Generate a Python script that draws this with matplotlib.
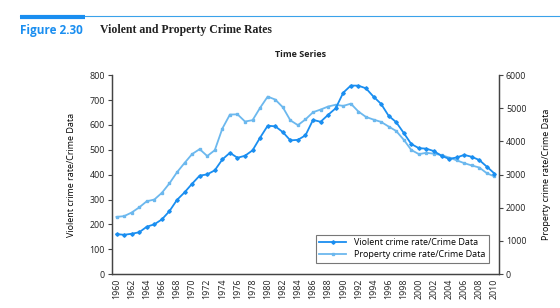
import matplotlib.pyplot as plt
from matplotlib.lines import Line2D

years = list(range(1960, 2011))
violent = [160.9, 158.1, 162.3, 168.2, 190.6, 200.2, 220.0, 253.2, 298.4, 328.7,
           363.5, 396.0, 401.0, 417.4, 461.1, 487.8, 467.8, 475.9, 497.8, 548.9,
           596.6, 594.3, 571.1, 537.7, 539.9, 558.1, 620.1, 612.5, 640.6, 666.9,
           729.6, 758.2, 757.7, 747.1, 713.6, 684.5, 636.6, 611.0, 567.6, 523.0,
           506.5, 504.5, 494.4, 475.8, 463.2, 469.0, 479.3, 471.8, 458.6, 431.9,
           404.5]
property_ = [1726.3, 1747.9, 1857.5, 2012.1, 2197.5, 2248.8, 2450.9, 2736.5, 3071.8, 3351.3,
             3621.0, 3768.8, 3560.4, 3737.0, 4389.3, 4810.7, 4819.5, 4601.7, 4642.5, 5016.6,
             5353.3, 5263.9, 5032.5, 4637.4, 4492.1, 4666.4, 4881.8, 4963.0, 5054.0, 5107.1,
             5073.1, 5140.2, 4903.7, 4740.0, 4660.2, 4590.5, 4451.0, 4316.3, 4052.5, 3743.6,
             3618.3, 3658.1, 3630.6, 3591.2, 3514.1, 3431.5, 3346.6, 3276.4, 3214.6, 3041.3,
             2945.9]
labels = ['Violent crime rate/Crime Data', 'Property crime rate/Crime Data']

c_violent = '#1a8ef0'
c_property = '#6cb8ee'
axis_col = '#444444'

fig = plt.figure(figsize=(5.6, 3.08), dpi=100)

# header band
fig.add_artist(Line2D([0.035, 1.0], [0.947, 0.947], color='#3aa2ea', lw=0.8))
fig.add_artist(Line2D([0.035, 0.152], [0.944, 0.944], color='#1a8ef0', lw=3.0,
                      solid_capstyle='butt'))
fig.text(0.035, 0.902, 'Figure 2.30', color='#1a8ef0', fontsize=8.5,
         fontweight='bold', family='Open Sans', va='center')
fig.text(0.178, 0.902, 'Violent and Property Crime Rates', color='#222222',
         fontsize=8.5, fontweight='bold', family='Liberation Serif', va='center')
fig.text(0.536, 0.822, 'Time Series', fontsize=6.5, fontweight='bold',
         family='Open Sans', ha='center', va='center', color='#222222')

ax = fig.add_axes([0.2, 0.11, 0.691, 0.646])
ax2 = ax.twinx()

l1, = ax.plot(years, violent, color=c_violent, lw=1.3, marker='D', ms=1.8,
              label=labels[0])
l2, = ax2.plot(years, property_, color=c_property, lw=1.3, marker='s', ms=2.0,
               label=labels[1])
ax.set_zorder(ax2.get_zorder() + 1)
ax.patch.set_visible(False)

ax.set_xlim(1959.4, 2010.6)
ax.set_ylim(0, 800)
ax2.set_ylim(0, 6000)
ax.set_yticks(range(0, 801, 100))
ax2.set_yticks(range(0, 6001, 1000))
ax.set_xticks(years[::2])
ax.set_xticklabels([str(y) for y in years[::2]], rotation=90)

for a in (ax, ax2):
    a.spines['top'].set_visible(False)
    for s in a.spines.values():
        s.set_color(axis_col)
        s.set_linewidth(0.9)
    a.tick_params(labelsize=6.4, colors='#222222', length=3, width=0.8,
                  color=axis_col, pad=2)
ax.tick_params(axis='x', length=0, pad=3)
for t in ax.get_xticklabels() + ax.get_yticklabels() + ax2.get_yticklabels():
    t.set_family('Open Sans')

ax.set_ylabel(labels[0], fontsize=6.5, family='Open Sans', labelpad=10)
ax2.set_ylabel(labels[1], fontsize=6.5, family='Open Sans', labelpad=11)

leg = ax.legend(handles=[l1, l2], loc='lower right', bbox_to_anchor=(0.985, 0.035),
                frameon=True, fancybox=False, handlelength=3,
                borderpad=0.4, labelspacing=0.3, prop={'family': 'Open Sans', 'size': 6.5})
leg.get_frame().set_edgecolor('#555555')
leg.get_frame().set_linewidth(0.8)

fig.savefig('out.png', dpi=100)
